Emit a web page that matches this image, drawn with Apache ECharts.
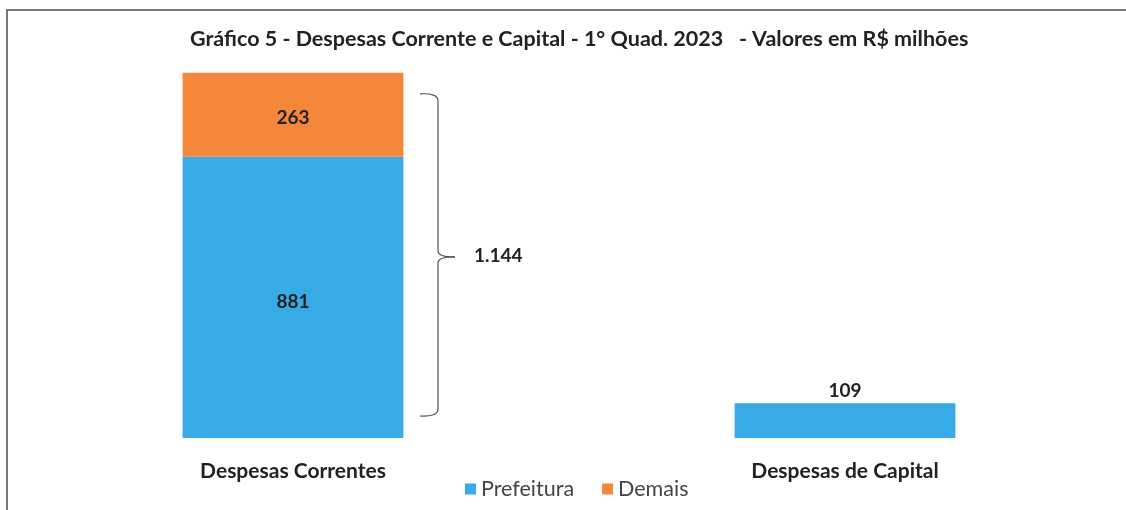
<!DOCTYPE html>
<html>
<head>
<meta charset="utf-8">
<script src="https://cdn.jsdelivr.net/npm/echarts@6/dist/echarts.min.js"></script>
<style>
  html, body { margin: 0; padding: 0; background: #fff; }
  #chart { width: 1126px; height: 510px; }
</style>
</head>
<body>
<div id="chart"></div>
<script>
  var categorias = ["Despesas Correntes", "Despesas de Capital"];
  var prefeitura = [881, 109];
  var demais = [263, null];
  var totalCorrentes = prefeitura[0] + demais[0]; // 1.144

  var azul = "#38ABE6";
  var laranja = "#F5873A";
  var fonte = "Lato, 'Open Sans', sans-serif";

  function fmtBR(v) {
    return String(v).replace(/\B(?=(\d{3})+(?!\d))/g, ".");
  }

  var myChart = echarts.init(document.getElementById("chart"));
  var option = {
    backgroundColor: "#fff",
    title: {
      text: "Gráfico 5 - Despesas Corrente e Capital - 1° Quad. 2023   - Valores em R$ milhões",
      left: 185,
      top: 23,
      textStyle: { fontFamily: fonte, fontSize: 21.5, fontWeight: "bold", color: "#222" }
    },
    legend: {
      bottom: 5,
      left: 460,
      itemWidth: 11,
      itemHeight: 11,
      itemGap: 28,
      icon: "rect",
      textStyle: { fontFamily: fonte, fontSize: 21.5, color: "#444" },
      data: ["Prefeitura", "Demais"]
    },
    grid: { left: 17, right: 5, top: 55, bottom: 72 },
    xAxis: {
      type: "category",
      data: categorias,
      axisLine: { show: false },
      axisTick: { show: false },
      axisLabel: {
        margin: 23,
        fontFamily: fonte,
        fontSize: 21,
        fontWeight: "bold",
        color: "#222"
      }
    },
    yAxis: {
      type: "value",
      min: 0,
      max: 1200,
      show: false,
      splitLine: { show: false }
    },
    series: [
      {
        name: "Prefeitura",
        type: "bar",
        stack: "total",
        barWidth: "40%",
        itemStyle: { color: azul },
        label: {
          show: true,
          formatter: function (p) {
            return p.dataIndex === 0 ? fmtBR(p.value) : "";
          },
          position: "inside",
          offset: [0, 4],
          fontFamily: fonte,
          fontSize: 19,
          fontWeight: "bold",
          color: "#222"
        },
        data: prefeitura
      },
      {
        name: "Demais",
        type: "bar",
        stack: "total",
        barWidth: "40%",
        itemStyle: { color: laranja },
        label: {
          show: true,
          position: "inside",
          offset: [0, 3],
          fontFamily: fonte,
          fontSize: 19,
          fontWeight: "bold",
          color: "#222"
        },
        data: demais
      },
      {
        // rótulo do valor da barra de capital, acima dela
        name: "capitalLabel",
        type: "bar",
        stack: "total",
        barWidth: "40%",
        itemStyle: { color: "transparent" },
        label: {
          show: true,
          position: "top",
          distance: 3,
          formatter: function (p) {
            return p.dataIndex === 1 ? fmtBR(prefeitura[1]) : "";
          },
          fontFamily: fonte,
          fontSize: 19,
          fontWeight: "bold",
          color: "#222"
        },
        silent: true,
        data: [null, 0]
      }
    ]
  };
  myChart.setOption(option);

  // chave "}" ao lado da primeira barra + moldura
  var topo = myChart.convertToPixel({ xAxisIndex: 0, yAxisIndex: 0 }, [0, totalCorrentes]);
  var base = myChart.convertToPixel({ xAxisIndex: 0, yAxisIndex: 0 }, [0, 0]);
  var xs = 438;
  var y1 = topo[1] + 21;
  var y2 = base[1] - 22;
  var ym = (y1 + y2) / 2 + 2;
  var traco = { fill: null, stroke: "#555", lineWidth: 1.2 };

  myChart.setOption({
    graphic: [
      { type: "bezierCurve", shape: { x1: xs - 18, y1: y1, cpx1: xs, cpy1: y1 - 1, x2: xs, y2: y1 + 7 }, style: traco },
      { type: "line", shape: { x1: xs, y1: y1 + 7, x2: xs, y2: ym - 6 }, style: traco },
      { type: "bezierCurve", shape: { x1: xs, y1: ym - 6, cpx1: xs, cpy1: ym, x2: xs + 17, y2: ym }, style: traco },
      { type: "bezierCurve", shape: { x1: xs + 17, y1: ym, cpx1: xs, cpy1: ym, x2: xs, y2: ym + 6 }, style: traco },
      { type: "line", shape: { x1: xs, y1: ym + 6, x2: xs, y2: y2 - 7 }, style: traco },
      { type: "bezierCurve", shape: { x1: xs, y1: y2 - 7, cpx1: xs, cpy1: y2 + 1, x2: xs - 18, y2: y2 }, style: traco },
      {
        type: "text",
        left: 474,
        top: ym - 11,
        style: {
          text: fmtBR(totalCorrentes),
          fontFamily: fonte,
          fontSize: 19,
          fontWeight: "bold",
          fill: "#222"
        }
      },
      {
        type: "polyline",
        shape: { points: [[7, 510], [7, 10], [1126, 10]] },
        style: { fill: null, stroke: "#777", lineWidth: 2 },
        silent: true
      }
    ]
  });

  window.addEventListener("resize", function () {
    myChart.resize();
  });
</script>
</body>
</html>
